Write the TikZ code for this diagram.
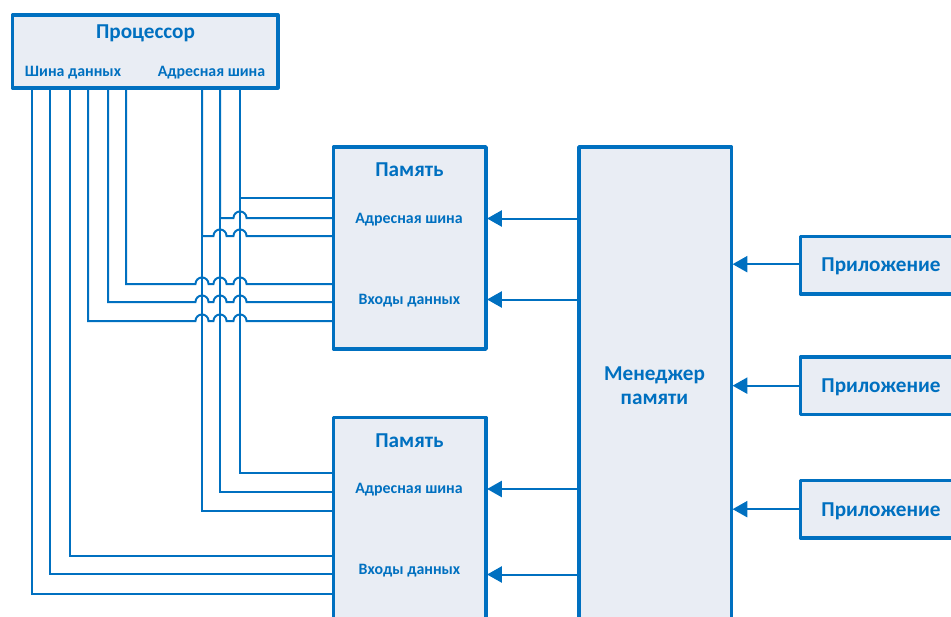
\documentclass[tikz,border=0pt]{standalone}
\usepackage{fontspec}
\setmainfont{Carlito}
\usetikzlibrary{arrows.meta}
\definecolor{blu}{HTML}{0070C0}
\definecolor{pale}{HTML}{E9EDF4}
\newcommand{\hop}[2]{-- ([xshift=-4.9pt]#1 |- #2) arc[start angle=180,end angle=0,radius=4.9pt]}
\tikzset{
  boxx/.style={draw=blu,fill=pale,line width=2.6pt,line join=round,inner sep=0pt,outer sep=0pt,anchor=north west},
  big/.style={text=blu,font=\fontsize{15.9}{18}\selectfont\bfseries,inner sep=0pt},
  small/.style={text=blu,font=\fontsize{11.9}{14}\selectfont\bfseries,inner sep=0pt},
  wire/.style={draw=blu,line width=1.5pt},
  feed/.style={draw=blu,line width=1.5pt,shorten >=0.8pt,-{Triangle[length=11pt,width=12pt]}}
}
\begin{document}
\begin{tikzpicture}[x=0.75pt,y=-0.75pt]
\useasboundingbox (0,0) rectangle (951,617);
\clip (0,0) rectangle (951,617);
% coordinates at the processor
\foreach \n/\x in {d1/32,d2/50,d3/70,d4/88,d5/108,d6/126,a1/202,a2/220,a3/240}
  \coordinate (\n) at (\x,88);
% rows on the memory edges
\foreach \n/\y in {r1/198,r2/218,r3/236,r4/284,r5/302,r6/321,s1/473,s2/492,s3/511,s4/556,s5/574,s6/594}
  \coordinate (\n) at (333,\y);
% wires
\draw[wire] (a3) |- (r1);
\draw[wire] (a2) |- (r2 -| a2) \hop{a3}{r2} -- (r2);
\draw[wire] (a1) |- (r3 -| a1) \hop{a2}{r3} \hop{a3}{r3} -- (r3);
\draw[wire] (d6) |- (r4 -| d6) \hop{a1}{r4} \hop{a2}{r4} \hop{a3}{r4} -- (r4);
\draw[wire] (d5) |- (r5 -| d5) \hop{a1}{r5} \hop{a2}{r5} \hop{a3}{r5} -- (r5);
\draw[wire] (d4) |- (r6 -| d4) \hop{a1}{r6} \hop{a2}{r6} \hop{a3}{r6} -- (r6);
\draw[wire] (a3) |- (s1);
\draw[wire] (a2) |- (s2);
\draw[wire] (a1) |- (s3);
\draw[wire] (d3) |- (s4);
\draw[wire] (d2) |- (s5);
\draw[wire] (d1) |- (s6);
% boxes
\node[boxx,minimum width=199pt,minimum height=54.75pt] (proc) at (12.5,15) {};
\node[boxx,minimum width=114.4pt,minimum height=151.5pt] (mem1) at (333.5,147) {};
\node[boxx,minimum width=114.4pt,minimum height=170pt] (mem2) at (333.5,417.5) {};
\node[boxx,minimum width=114.4pt,minimum height=400pt] (mgr) at (579,147) {};
\node[boxx,minimum width=130pt,minimum height=43pt] (app1) at (800.5,236.5) {};
\node[boxx,minimum width=130pt,minimum height=43pt] (app2) at (800.5,357) {};
\node[boxx,minimum width=130pt,minimum height=43pt] (app3) at (800.5,480.5) {};
% texts
\node[big] (tp) at (145.5,33) {Процессор};
\node[small] (td) at (73,73) {Шина данных};
\node[small] (ta) at (211.5,73) {Адресная шина};
\node[big] (t1) at (409.5,170) {Память};
\node[small] (t1a) at (409,220) {Адресная шина};
\node[small] (t1d) at (409.5,301) {Входы данных};
\node[big] (t2) at (409.5,441) {Память};
\node[small] (t2a) at (409,490) {Адресная шина};
\node[small] (t2d) at (409.5,571) {Входы данных};
\node[big,align=center] (tm) at (654.5,385.5) {Менеджер\\[-0.3pt]памяти};
\node[big] (ta1) at (881,266) {Приложение};
\node[big] (ta2) at (881,387) {Приложение};
\node[big] (ta3) at (881,511) {Приложение};
% arrows
\coordinate (m1) at (mgr.west |- 0,218.5);
\coordinate (m2) at (mgr.west |- 0,299.5);
\coordinate (m3) at (mgr.west |- 0,489);
\coordinate (m4) at (mgr.west |- 0,574.5);
\draw[feed] (m1) -- (m1 -| mem1.east);
\draw[feed] (m2) -- (m2 -| mem1.east);
\draw[feed] (m3) -- (m3 -| mem2.east);
\draw[feed] (m4) -- (m4 -| mem2.east);
\coordinate (q1) at ([yshift=0.75pt]app1.west);
\draw[feed] (q1) -- (q1 -| mgr.east);
\draw[feed] (app2.west) -- (app2.west -| mgr.east);
\draw[feed] (app3.west) -- (app3.west -| mgr.east);
\end{tikzpicture}
\end{document}
